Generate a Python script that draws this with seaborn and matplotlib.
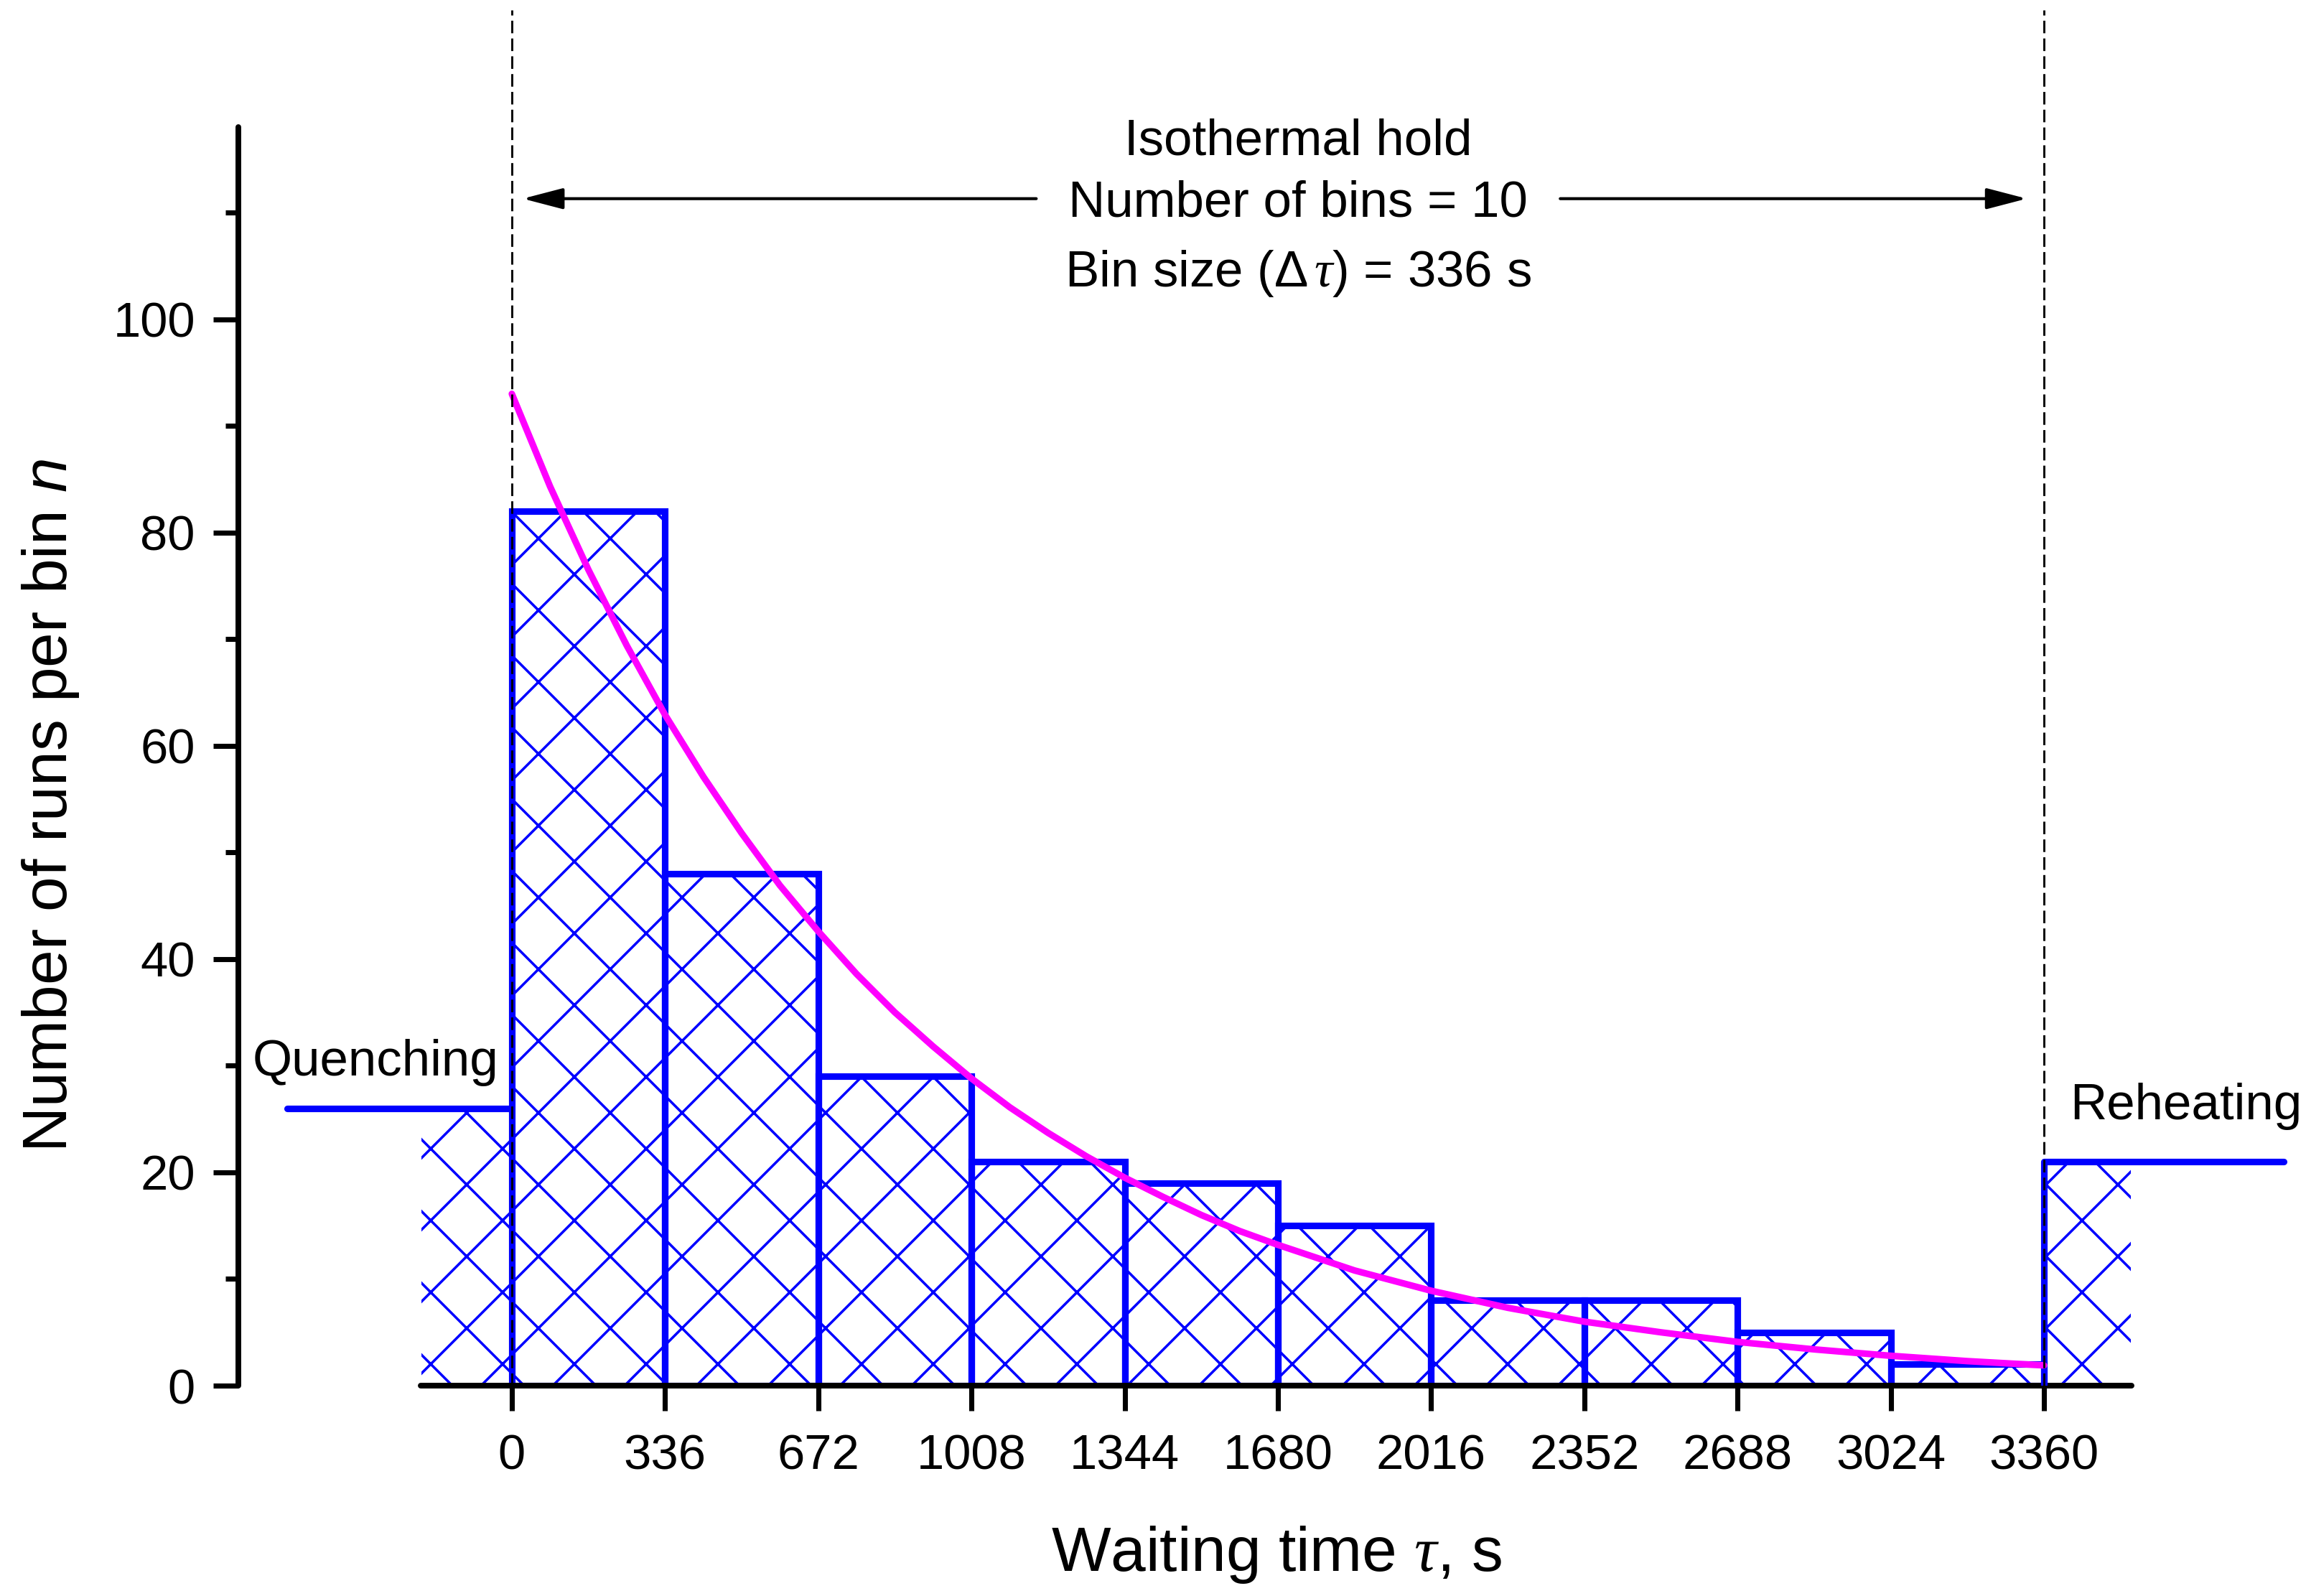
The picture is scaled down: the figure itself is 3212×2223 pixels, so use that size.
import numpy as np
import pandas as pd
import seaborn as sns
import matplotlib.pyplot as plt

# histogram of waiting times during the isothermal hold
bin_edges = [0, 336, 672, 1008, 1344, 1680, 2016, 2352, 2688, 3024, 3360]
bin_counts = [82, 48, 29, 21, 19, 15, 8, 8, 5, 2]

# runs that froze during quenching / reheating
quench_count = 26
reheat_count = 21
quench_start = -198       # hatched block left edge
quench_line_start = -493  # step line left end
reheat_end = 3550
reheat_line_end = 3885

# exponential fit curve
fit_time = [0, 84, 168, 252, 336, 420, 504, 588, 672, 756, 840, 924, 1008,
            1092, 1176, 1260, 1344, 1428, 1512, 1596, 1680, 1848, 2016,
            2184, 2352, 2520, 2688, 2856, 3024, 3192, 3360]
fit_count = [93.0, 84.3, 76.5, 69.4, 62.9, 57.1, 51.8, 46.9, 42.6, 38.6, 35.0,
             31.8, 28.8, 26.1, 23.7, 21.5, 19.5, 17.7, 16.0, 14.5, 13.2, 10.8,
             8.9, 7.3, 6.0, 5.0, 4.1, 3.4, 2.8, 2.3, 1.9]

y_major = [0, 20, 40, 60, 80, 100]
y_minor = [10, 30, 50, 70, 90, 110]

BLUE = "#0000FF"
MAGENTA = "#FF00FF"

sns.set_style("ticks")
plt.rcParams["font.family"] = ["Liberation Sans", "DejaVu Sans"]
plt.rcParams["mathtext.fontset"] = "custom"
plt.rcParams["mathtext.rm"] = "Liberation Sans"
plt.rcParams["mathtext.it"] = "Liberation Serif:italic"
plt.rcParams["mathtext.sf"] = "Liberation Sans:italic"
plt.rcParams["hatch.linewidth"] = 0.85
for key in ("text.color", "axes.labelcolor", "xtick.color", "ytick.color"):
    plt.rcParams[key] = "black"

fig = plt.figure(figsize=(3212 / 300, 2223 / 300), dpi=300)
ax = fig.add_axes([0.1033, 0.1318, 0.8899, 0.862])

edges = np.array(bin_edges)
df = pd.DataFrame({"tau": (edges[:-1] + edges[1:]) / 2, "n": bin_counts})
sns.histplot(data=df, x="tau", weights="n", bins=bin_edges, ax=ax,
             facecolor="none", edgecolor=BLUE, linewidth=2.2, hatch="x",
             alpha=1, zorder=2)

# quenching and reheating blocks (hatch only, no outline)
ax.bar([quench_start], [quench_count], width=bin_edges[0] - quench_start,
       align="edge", facecolor="none", edgecolor=BLUE, linewidth=0,
       hatch="x", zorder=1)
ax.bar([bin_edges[-1]], [reheat_count], width=reheat_end - bin_edges[-1],
       align="edge", facecolor="none", edgecolor=BLUE, linewidth=0,
       hatch="x", zorder=1)
ax.plot([quench_line_start, bin_edges[0]], [quench_count, quench_count],
        color=BLUE, lw=2.2, solid_capstyle="round", zorder=3)
ax.plot([bin_edges[-1], bin_edges[-1], reheat_line_end],
        [0, reheat_count, reheat_count],
        color=BLUE, lw=2.2, solid_capstyle="round", zorder=3)

sns.lineplot(x=fit_time, y=fit_count, color=MAGENTA, linewidth=2.2, ax=ax,
             zorder=4, solid_capstyle="round")

for xv in (bin_edges[0], bin_edges[-1]):
    ax.axvline(xv, color="black", lw=0.7, linestyle=(0, (6, 2.5)), zorder=5)

# annotation block
ax.text(1724, 115.4, "Isothermal hold", ha="center", va="baseline", fontsize=17)
ax.text(1724, 109.6, "Number of bins = 10", ha="center", va="baseline", fontsize=17)
ax.text(1724, 103.1, r"Bin size ($\Delta\,\tau$) = 336 s", ha="center",
        va="baseline", fontsize=17)
arrow = dict(arrowstyle="-|>,head_length=0.575,head_width=0.15", color="black",
             lw=1.0, shrinkA=0, shrinkB=0, mutation_scale=20)
ax.annotate("", xy=(24, 111.3), xytext=(1150, 111.3), arrowprops=arrow)
ax.annotate("", xy=(3322, 111.3), xytext=(2299, 111.3), arrowprops=arrow)

ax.text(-569, 29.05, "Quenching", ha="left", va="baseline", fontsize=17)
ax.text(3417, 25.0, "Reheating", ha="left", va="baseline", fontsize=17)

ax.set_xlim(-600, 3900)
ax.set_ylim(0, 129)
ax.set_xticks(bin_edges)
ax.set_xticklabels([str(v) for v in bin_edges])
ax.set_yticks(y_major)
ax.set_yticks(y_minor, minor=True)

sns.despine(ax=ax)
ax.spines["left"].set_bounds(0, 118)
ax.spines["bottom"].set_bounds(-200, 3552)
for s in ("left", "bottom"):
    ax.spines[s].set_linewidth(1.9)
    ax.spines[s].set_color("black")
    ax.spines[s].set_capstyle("round")

ax.tick_params(axis="both", which="major", direction="out", length=8.4,
               width=1.7, labelsize=16.5)
ax.tick_params(axis="y", which="minor", direction="out", length=4.3, width=1.7)
ax.tick_params(axis="x", pad=7.5)
ax.tick_params(axis="y", pad=6)

ax.set_xlabel(r"Waiting time $\tau$, s", fontsize=21)
ax.set_ylabel(r"Number of runs per bin $\mathsf{n}$", fontsize=21)
ax.xaxis.label.set_verticalalignment("baseline")
ax.xaxis.set_label_coords(0.506, -0.1347)
ax.yaxis.label.set_verticalalignment("baseline")
ax.yaxis.set_label_coords(-0.0836, 0.4218)

fig.savefig("out.png", dpi=300)
